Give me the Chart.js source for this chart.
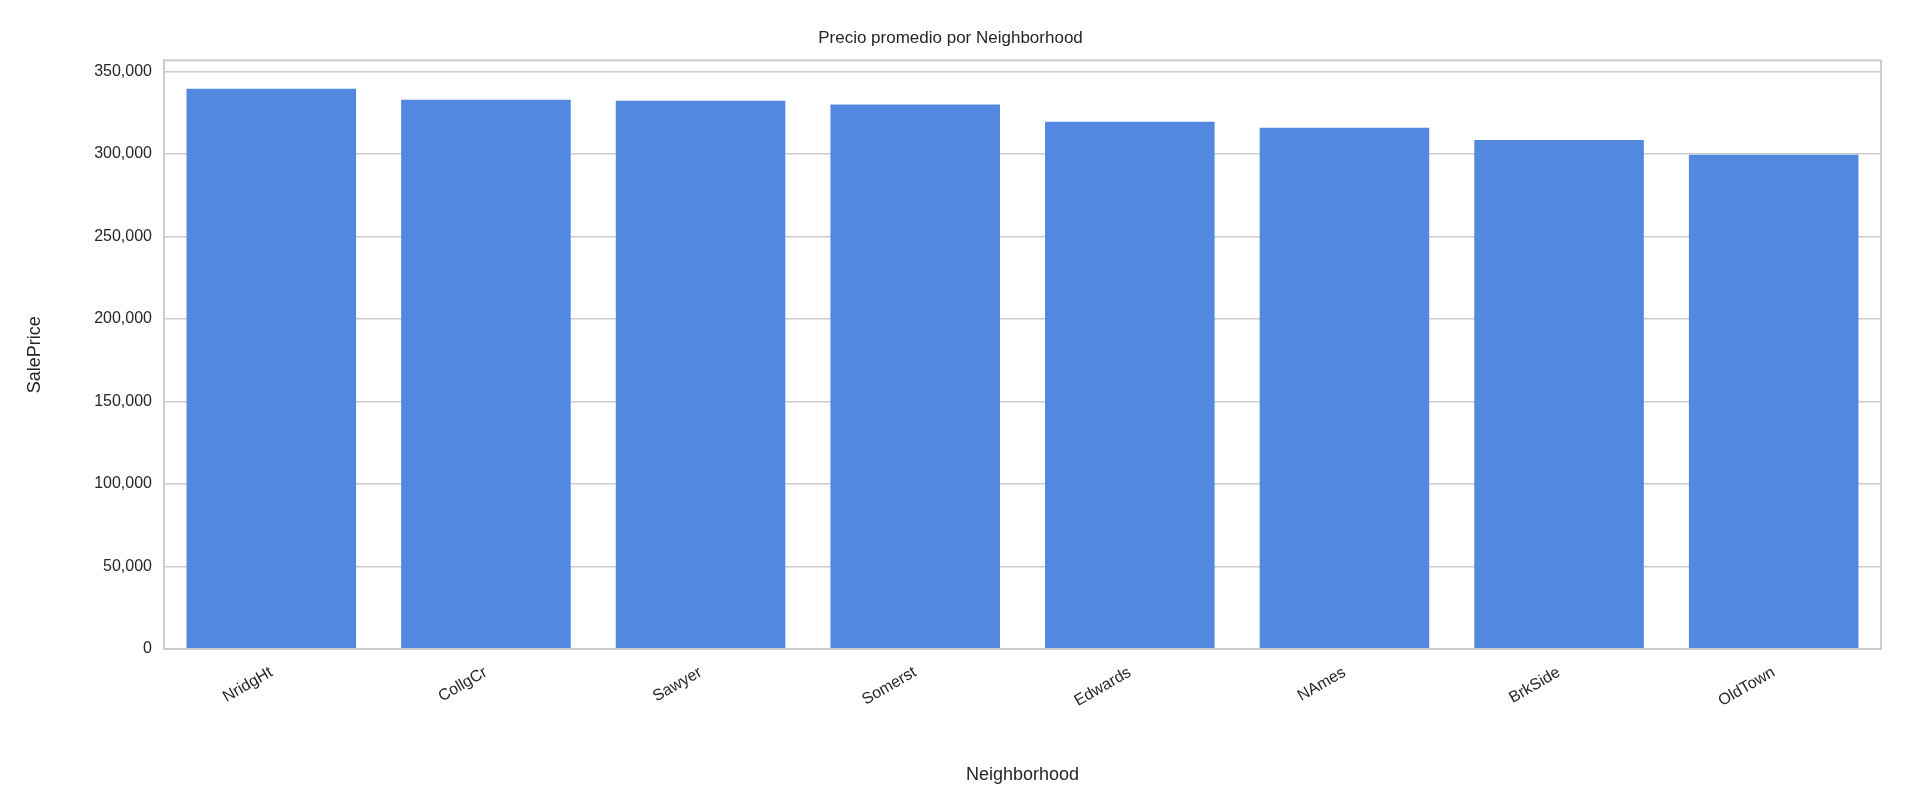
<!DOCTYPE html>
<html><head><meta charset="utf-8">
<script src="https://cdn.jsdelivr.net/npm/chart.js@4"></script>
<style>html,body{margin:0;background:#fff}#w{width:1920px;height:800px}</style></head>
<body><div id="w"><canvas id="c"></canvas></div>
<script>
const categories = ["NridgHt","CollgCr","Sawyer","Somerst","Edwards","NAmes","BrkSide","OldTown"];
const salePrice = [339500,332800,332100,329900,319500,315800,308300,299400];
const yTicks = [0,50000,100000,150000,200000,250000,300000,350000];
const F = "'Liberation Sans', Arial, sans-serif";
const frame = {id:'frame', afterDraw(ch){const a=ch.chartArea,c=ch.ctx;c.save();c.strokeStyle='#cccccc';c.lineWidth=2;c.strokeRect(a.left,a.top,a.right-a.left,a.bottom-a.top);c.restore();}};
new Chart(document.getElementById('c'),{
 type:'bar',
 data:{labels:categories,datasets:[{data:salePrice,backgroundColor:'#5288e0',categoryPercentage:0.79,barPercentage:1}]},
 options:{responsive:true,maintainAspectRatio:false,animation:false,
  layout:{padding:{left:20,right:39,top:0,bottom:10}},
  plugins:{legend:{display:false},tooltip:{enabled:false},
   title:{display:true,text:'Precio promedio por Neighborhood',color:'#262626',font:{family:F,size:17,weight:'normal'},padding:{top:28,bottom:12}}},
  scales:{
   x:{grid:{display:false},border:{color:'#cccccc',width:2},
      ticks:{color:'#262626',font:{family:F,size:16},maxRotation:30,minRotation:30,padding:6},
      title:{display:true,text:'Neighborhood',color:'#262626',font:{family:F,size:18},padding:{top:4}},
      afterFit(s){s.height=141;}},
   y:{min:0,max:356600,grid:{color:'#cccccc',lineWidth:1.5,drawTicks:false},border:{color:'#cccccc',width:2},
      afterBuildTicks(s){s.ticks=yTicks.map(v=>({value:v}));},
      ticks:{color:'#262626',font:{family:F,size:16},padding:12},
      title:{display:true,text:'SalePrice',color:'#262626',font:{family:F,size:18},padding:{bottom:6}},
      afterFit(s){s.width=144;}}
  }},
 plugins:[frame]
});
</script></body></html>
